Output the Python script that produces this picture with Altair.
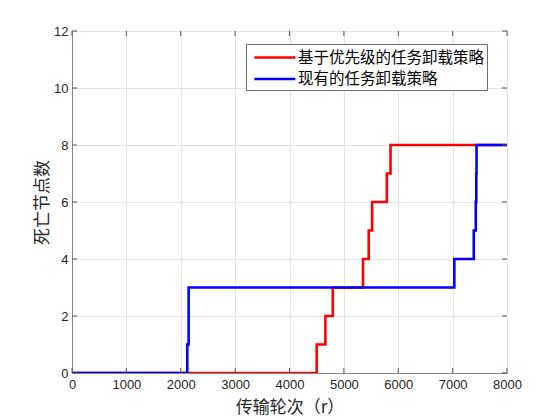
import altair as alt
import pandas as pd

# ---- data ----
series = ["基于优先级的任务卸载策略", "现有的任务卸载策略"]
colors = ["#ff0000", "#0000ff"]

red_x = [0, 4500, 4660, 4796, 5352, 5457, 5519, 5790, 5858, 8000]
red_y = [0, 1, 2, 3, 4, 5, 6, 7, 8, 8]

blue_x = [0, 2120, 2145, 7031, 7389, 7426, 7435, 7440, 8000]
blue_y = [0, 1, 3, 4, 5, 6, 7, 8, 8]

x_ticks = [0, 1000, 2000, 3000, 4000, 5000, 6000, 7000, 8000]
y_ticks = [0, 2, 4, 6, 8, 10, 12]

x_title = "传输轮次（r）"
y_title = "死亡节点数"

# ---- layout / style ----
W, H = 435, 342
CJK = "Noto Sans CJK SC"
NUM = "Liberation Sans"
AXIS_GRAY = "#888888"
TEXT = "#262626"

red_df = pd.DataFrame({"r": red_x, "d": red_y, "s": series[0]})
blue_df = pd.DataFrame({"r": blue_x, "d": blue_y, "s": series[1]})
xt_df = pd.DataFrame({"v": x_ticks})
yt_df = pd.DataFrame({"v": y_ticks})

xscale = alt.Scale(domain=[0, 8000], nice=False)
yscale = alt.Scale(domain=[0, 12], nice=False)

xaxis = alt.Axis(
    values=x_ticks, format="d", title=x_title,
    titleFont=CJK, titleFontSize=17, titleFontWeight="normal", titleColor=TEXT,
    titlePadding=8, labelFont=NUM, labelFontSize=13, labelColor=TEXT,
    labelPadding=5, ticks=False, tickSize=0, grid=True, gridColor="#e4e4e4",
    domainColor=AXIS_GRAY, labelFlush=False,
)
yaxis = alt.Axis(
    values=y_ticks, format="d", title=y_title,
    titleFont=CJK, titleFontSize=17, titleFontWeight="normal", titleColor=TEXT,
    titlePadding=2, labelFont=NUM, labelFontSize=13, labelColor=TEXT,
    labelPadding=4, ticks=False, tickSize=0, grid=True, gridColor="#e4e4e4",
    domainColor=AXIS_GRAY, labelFlush=False,
)

# legend line sample: a wide custom stroke path so the rows stay compact
color = alt.Color(
    "s:N",
    scale=alt.Scale(domain=series, range=colors),
    legend=alt.Legend(
        title=None, orient="none", legendX=174, legendY=13,
        symbolType="M-0.5,0H3.5", symbolSize=420, symbolStrokeWidth=2.5,
        labelFont=CJK, labelFontSize=15.5, labelColor="#000000", labelLimit=400,
        labelOffset=27, padding=2, rowPadding=1.5,
        strokeColor="#6e6e6e", fillColor="#ffffff", cornerRadius=0,
    ),
)

def series_layer(df):
    return alt.Chart(df).mark_line(
        interpolate="step-after", strokeWidth=2.6, clip=True
    ).encode(
        x=alt.X("r:Q", scale=xscale, axis=xaxis),
        y=alt.Y("d:Q", scale=yscale, axis=yaxis),
        color=color,
    )

tick_color = "#555555"
xb = alt.Chart(xt_df).mark_rule(color=tick_color, strokeWidth=1).encode(
    x=alt.X("v:Q", scale=xscale, axis=xaxis), y=alt.value(H), y2=alt.value(H - 5))
xt = alt.Chart(xt_df).mark_rule(color=tick_color, strokeWidth=1).encode(
    x=alt.X("v:Q", scale=xscale, axis=xaxis), y=alt.value(0), y2=alt.value(5))
yl = alt.Chart(yt_df).mark_rule(color=tick_color, strokeWidth=1).encode(
    y=alt.Y("v:Q", scale=yscale, axis=yaxis), x=alt.value(0), x2=alt.value(5))
yr = alt.Chart(yt_df).mark_rule(color=tick_color, strokeWidth=1).encode(
    y=alt.Y("v:Q", scale=yscale, axis=yaxis), x=alt.value(W), x2=alt.value(W - 5))

chart = alt.layer(
    series_layer(red_df), series_layer(blue_df), xb, xt, yl, yr
).properties(
    width=W, height=H,
    autosize=alt.AutoSizeParams(type="none"),
    padding={"left": 64, "top": 23, "right": 45, "bottom": 47},
    background="#ffffff",
).configure_view(stroke=AXIS_GRAY, strokeWidth=1)

chart.save("out.html", embed_options={"renderer": "svg", "actions": False})
